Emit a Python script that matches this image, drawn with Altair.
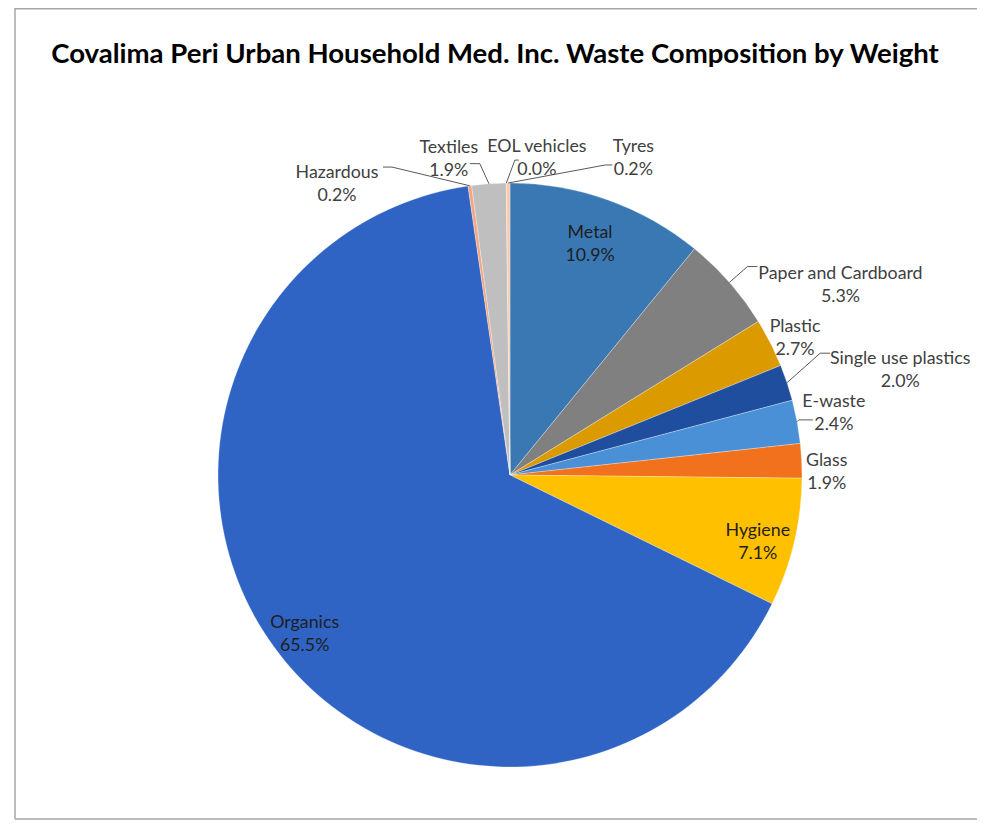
import altair as alt
import pandas as pd

# ---- data ----
categories = ["Metal", "Paper and Cardboard", "Plastic", "Single use plastics", "E-waste",
              "Glass", "Hygiene", "Organics", "Hazardous", "Textiles", "EOL vehicles", "Tyres"]
values = [10.9, 5.3, 2.7, 2.0, 2.4, 1.9, 7.1, 65.5, 0.2, 1.9, 0.0, 0.2]

# ---- styles ----
colors = ["#3A78B4", "#808080", "#DA9A00", "#1F4E9E", "#4A90D6", "#F2711C",
          "#FFC000", "#2F64C4", "#F4A582", "#BFBFBF", "#E7A0A0", "#F8CBAD"]
# label placement: distance from centre (px) and angular shift from the slice middle (deg)
label_r = [255, 387, 321, 407, 332, 317, 254, 253, 348, 333, 329, 350]
label_shift = [-1.3, 9.9, -0.5, 1.9, -2.2, 0.2, -0.7, 0.3, -21.9, -6.45, 5.4, 21.0]
label_color = ["#1E1E1E", "#404040", "#404040", "#404040", "#404040", "#404040",
               "#1E1E1E", "#1E1E1E", "#404040", "#404040", "#404040", "#404040"]
# leader lines: elbow and end offsets relative to label centre (px); None = no leader
leader = [None, (-93, -7, -83, -7), None, (-80, -6, -70, -6), (-35, 18, -21, 18), None,
          None, None, (55, -6, 46, -6), (31, 16, 21, 16), (-22, 13, -18, 13), (-28, 17.5, -21, 17.5)]

CX, CY, R = 502, 467, 292
W, H = 969, 812
FONT = "Lato"

df = pd.DataFrame({
    "category": categories,
    "value": values,
    "idx": list(range(len(categories))),
    "lr": label_r,
    "ls": label_shift,
    "lcol": label_color,
    "has_leader": [l is not None for l in leader],
    "ex": [l[0] if l else 0 for l in leader],
    "ey": [l[1] if l else 0 for l in leader],
    "tx": [l[2] if l else 0 for l in leader],
    "ty": [l[3] if l else 0 for l in leader],
})

base = alt.Chart(df).transform_window(
    cum="sum(value)", sort=[alt.SortField("idx")], frame=[None, 0]
).transform_joinaggregate(
    total="sum(value)"
).transform_calculate(
    mid="(datum.cum - datum.value / 2) / datum.total * 2 * PI",
    pct="format(datum.value, '.1f') + '%'",
).transform_calculate(
    la="datum.mid + datum.ls * PI / 180",
    px0=f"{CX} + {R} * sin(datum.mid)",
    py0=f"{CY} - {R} * cos(datum.mid)",
).transform_calculate(
    lx=f"{CX} + datum.lr * sin(datum.la)",
    ly=f"{CY} - datum.lr * cos(datum.la)",
    txt="datum.category + '\\n' + datum.pct",
).transform_calculate(
    elx="datum.lx + datum.ex",
    ely="datum.ly + datum.ey",
    enx="datum.lx + datum.tx",
    eny="datum.ly + datum.ty",
)

pie = base.mark_arc(outerRadius=R, stroke="white", strokeWidth=0.3).encode(
    theta=alt.Theta("value:Q", stack=True),
    order=alt.Order("idx:Q"),
    color=alt.Color("category:N", scale=alt.Scale(domain=categories, range=colors), legend=None),
    x=alt.value(CX),
    y=alt.value(CY),
)

labels = base.mark_text(font=FONT, fontSize=17.8, lineBreak="\n", lineHeight=23,
                        align="center", baseline="middle").encode(
    x=alt.X("lx:Q", scale=None, axis=None),
    y=alt.Y("ly:Q", scale=None, axis=None),
    text="txt:N",
    color=alt.Color("lcol:N", scale=None),
)

lead1 = base.transform_filter("datum.has_leader").mark_rule(color="#595959", strokeWidth=1).encode(
    x=alt.X("px0:Q", scale=None, axis=None), y=alt.Y("py0:Q", scale=None, axis=None),
    x2="elx:Q", y2="ely:Q",
)
lead2 = base.transform_filter("datum.has_leader").mark_rule(color="#595959", strokeWidth=1).encode(
    x=alt.X("elx:Q", scale=None, axis=None), y=alt.Y("ely:Q", scale=None, axis=None),
    x2="enx:Q", y2="eny:Q",
)

title = alt.Chart(pd.DataFrame({"t": ["Covalima Peri Urban Household Med. Inc. Waste Composition by Weight"]})).mark_text(
    font=FONT, fontSize=27.55, fontWeight="bold", color="#000000", align="center", baseline="middle"
).encode(x=alt.value(487), y=alt.value(47), text="t:N")

frame_src = alt.Chart(pd.DataFrame({"a": [0]}))
fr_left = frame_src.mark_rule(stroke="#A6A6A6", strokeWidth=1.5).encode(
    x=alt.value(7), y=alt.value(0), y2=alt.value(H - 1))
fr_top = frame_src.mark_rule(stroke="#A6A6A6", strokeWidth=1.5).encode(
    x=alt.value(7), x2=alt.value(W + 20), y=alt.value(0.75))
fr_bot = frame_src.mark_rule(stroke="#A6A6A6", strokeWidth=1.5).encode(
    x=alt.value(7), x2=alt.value(W + 20), y=alt.value(H - 1))

chart = alt.layer(fr_left, fr_top, fr_bot, pie, lead1, lead2, labels, title).properties(
    width=W, height=H, autosize=alt.AutoSizeParams(type="none"), padding=0,
    background="white"
).resolve_scale(color="independent").configure_view(stroke=None, strokeWidth=0)

chart.save("out.html", embed_options={"renderer": "svg", "actions": False})
